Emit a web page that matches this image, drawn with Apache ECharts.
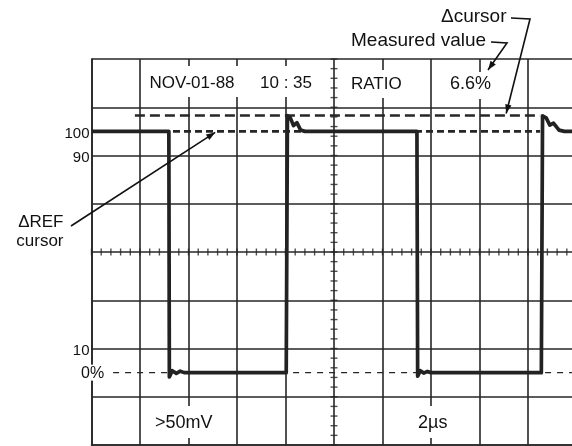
<!DOCTYPE html>
<html><head><meta charset="utf-8">
<script src="https://cdn.jsdelivr.net/npm/echarts@6/dist/echarts.min.js"></script>
<style>html,body{margin:0;padding:0;background:#fff}#c{width:572px;height:446px}</style>
</head><body><div id="c"></div>
<script>
// ---- data (time in microseconds, amplitude in percent of 0%..100% cursors) ----
const traceTimeUs = [0, 3.19, 3.21, 3.33, 3.5, 3.66, 3.82, 8.03, 8.08, 8.2, 8.33, 8.47, 8.62, 8.8, 13.42, 13.45, 13.56, 13.7, 13.85, 14.0, 18.55, 18.6, 18.75, 18.9, 19.05, 19.28, 19.5, 20];
const tracePercent = [100, 100, -1.8, 0.8, -0.3, 0.6, 0, 0, 106.5, 105.6, 102.4, 103.6, 100.6, 100, 100, -1.5, 0.8, -0.2, 0.5, 0, 0, 106.4, 105.6, 102.6, 103.4, 100.5, 100, 100];
const refCursorUs = [3.36, 18.5];
const refCursorPct = 100;
const deltaCursorUs = [1.79, 18.5];
const deltaCursorPct = 106.6;
const zeroCursorUs = [0.89, 20];
const zeroCursorPct = 0;
const levelLabels = ['100', '90', '10', '0%'];
const levelValues = [100, 90, 10, 0];
const headerTexts = ['NOV-01-88', '10 : 35', 'RATIO', '6.6%'];
const footerTexts = ['>50mV', '2\u00b5s'];
const measuredText = 'Measured value';
const deltaText = '\u0394cursor';
const refTextLines = ['\u0394REF', 'cursor'];

// ---- graticule ----
const DIV_X = 10, DIV_Y = 8, US_PER_DIV = 2, PCT_PER_DIV = 20, ZERO_DIV = 1.5;
const hTicks = [], vTicks = [];
for (let i = 0; i <= DIV_X * 5; i++) hTicks.push([i / 5, DIV_Y / 2]);
for (let j = 0; j <= DIV_Y * 5; j++) vTicks.push([DIV_X / 2, j / 5]);

const INK = '#262626';
const FONT = '"Liberation Sans", Arial, sans-serif';
const chart = echarts.init(document.getElementById('c'), null, {renderer: 'canvas'});
const pair = (xs, y) => xs.map(x => [x, y]);
const gridLine = {show: true, lineStyle: {color: INK, width: 1.6}};

chart.setOption({
  animation: false,
  backgroundColor: '#fff',
  grid: {left: 91.5, top: 59, width: 485, height: 386, outerBoundsMode: 'none', containLabel: false},
  xAxis: [
    {type: 'value', min: 0, max: DIV_X, interval: 1, axisLabel: {show: false}, axisTick: {show: false},
     axisLine: {show: true, onZero: false, lineStyle: {color: INK, width: 1.6}}, splitLine: gridLine},
    {type: 'value', min: 0, max: DIV_X * US_PER_DIV, show: false}
  ],
  yAxis: [
    {type: 'value', min: 0, max: DIV_Y, interval: 1, axisLabel: {show: false}, axisTick: {show: false},
     axisLine: {show: true, onZero: false, lineStyle: {color: INK, width: 1.6}}, splitLine: gridLine},
    {type: 'value', min: -ZERO_DIV * PCT_PER_DIV, max: (DIV_Y - ZERO_DIV) * PCT_PER_DIV, show: false}
  ],
  series: [
    {type: 'scatter', xAxisIndex: 0, yAxisIndex: 0, data: hTicks, symbol: 'rect', symbolSize: [1.4, 7],
     itemStyle: {color: INK}, silent: true, z: 1},
    {type: 'scatter', xAxisIndex: 0, yAxisIndex: 0, data: vTicks, symbol: 'rect', symbolSize: [7, 1.4],
     itemStyle: {color: INK}, silent: true, z: 1},
    {type: 'line', xAxisIndex: 1, yAxisIndex: 1, data: pair(zeroCursorUs, zeroCursorPct), showSymbol: false,
     lineStyle: {color: INK, width: 1.4, type: [6, 6]}, z: 2},
    {type: 'line', xAxisIndex: 1, yAxisIndex: 1, data: pair(refCursorUs, refCursorPct), showSymbol: false,
     lineStyle: {color: INK, width: 2.6, type: [7, 4]}, z: 2},
    {type: 'line', xAxisIndex: 1, yAxisIndex: 1, data: pair(deltaCursorUs, deltaCursorPct), showSymbol: false,
     lineStyle: {color: INK, width: 2.4, type: [10, 5]}, z: 2},
    {type: 'line', xAxisIndex: 1, yAxisIndex: 1, data: traceTimeUs.map((t, i) => [t, tracePercent[i]]),
     showSymbol: false, lineStyle: {color: '#222', width: 3.7, join: 'round'}, z: 3}
  ]
});

// ---- annotations ----
const px = (x, y) => chart.convertToPixel({seriesIndex: 5}, [x, y]);
function txt(text, x, y, size, align, extra) {
  return Object.assign({type: 'text', x: x, y: y, z: 110, style: Object.assign({
    text: text, fontSize: size, fontFamily: FONT, fill: '#111', align: align || 'left', verticalAlign: 'middle'}, extra || {})});
}
function blank(x, y, w, h) {
  return {type: 'rect', z: 105, shape: {x: x, y: y, width: w, height: h}, style: {fill: '#fff'}};
}
function arrow(pts, w) {
  const n = pts.length, a = pts[n - 2], b = pts[n - 1];
  const dx = b[0] - a[0], dy = b[1] - a[1], L = Math.hypot(dx, dy), ux = dx / L, uy = dy / L;
  const s = 9, h = 3.2;
  const base = [b[0] - ux * s, b[1] - uy * s];
  return [
    {type: 'polyline', z: 111, shape: {points: pts}, style: {stroke: '#111', lineWidth: w || 1.6, fill: null}},
    {type: 'polygon', z: 111, shape: {points: [b, [base[0] - uy * h, base[1] + ux * h], [base[0] + uy * h, base[1] - ux * h]]},
     style: {fill: '#111'}}
  ];
}
const els = [];
// blanking boxes behind texts
els.push(blank(145, 66, 174, 31), blank(346, 70, 62, 28), blank(445, 72, 56, 27));
els.push(blank(150, 406, 75, 32), blank(412, 406, 45, 32));
const zeroPx = px(0, 0);
els.push(blank(80, zeroPx[1] - 8, 27, 16));
// header / footer texts
els.push(txt(headerTexts[0], 149.5, 83, 17));
els.push(txt(headerTexts[1], 286, 83, 17, 'center'));
els.push(txt(headerTexts[2], 351, 84, 17));
els.push(txt(headerTexts[3], 450, 84, 18));
els.push(txt(footerTexts[0], 155, 423, 18));
els.push(txt(footerTexts[1], 418, 423, 18));
// level labels
levelValues.forEach((v, i) => {
  const p = px(0, v);
  if (levelLabels[i].indexOf('%') >= 0) els.push(txt(levelLabels[i], 81, p[1] + 1, 16));
  else els.push(txt(levelLabels[i], 89.5, p[1] + 2, 15, 'right'));
});
// side annotations
els.push(txt(measuredText, 351, 41, 19));
els.push(txt(deltaText, 441, 17, 19));
els.push(txt(refTextLines[0], 63.5, 222, 17, 'right'));
els.push(txt(refTextLines[1], 63.5, 241, 17, 'right'));
const refTip = px(5.1, refCursorPct);
const deltaTip = px(17.1, deltaCursorPct);
els.push(...arrow([[71, 226], [refTip[0], refTip[1] + 1]]));
els.push(...arrow([[511, 18], [530, 19], [deltaTip[0], deltaTip[1] - 2]]));
els.push(...arrow([[491, 42], [507, 43], [488, 70]]));
chart.setOption({graphic: {elements: els}});
</script>
</body></html>
